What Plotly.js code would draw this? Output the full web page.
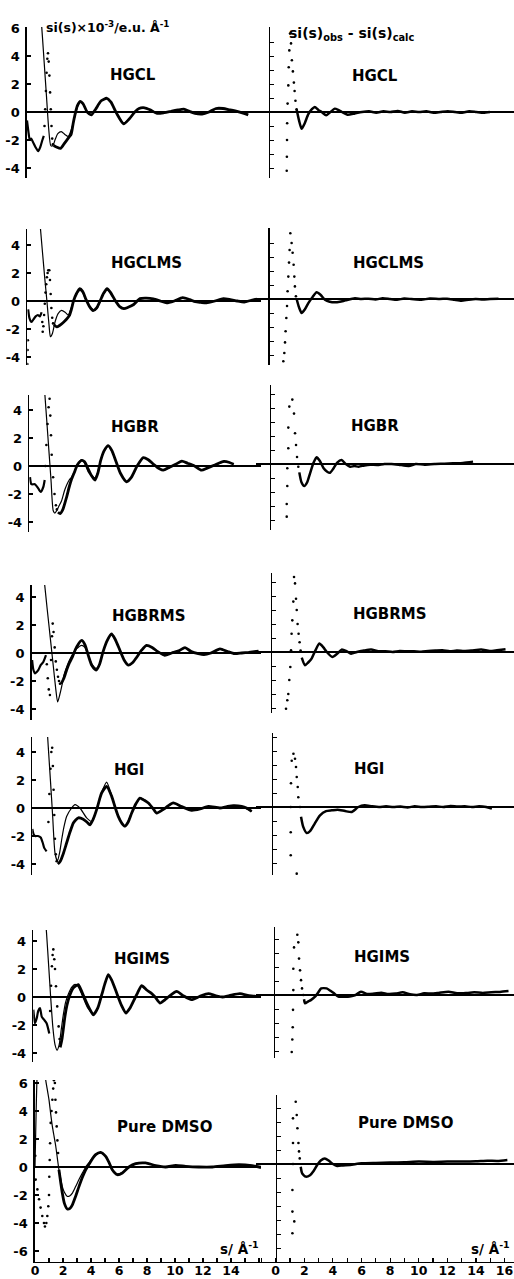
<!DOCTYPE html>
<html><head><meta charset="utf-8">
<script src="https://cdn.plot.ly/plotly-3.0.1.min.js"></script>
<style>html,body{margin:0;padding:0;background:#fff}#chart{width:514px;height:1279px}</style>
</head><body><div id="chart"></div>
<script>
// ---------- DATA (s in 1/Å, si(s) in units of 10^-3 e.u. Å^-1) ----------
// HGCL
const hgclLowS = [0.0,0.1,0.2,0.3,0.45,0.6,0.8,0.95,1.1,1.2];
const hgclLowY = [-0.6,-1.4,-2.0,-1.9,-2.2,-2.5,-2.8,-2.5,-2.0,-1.7];
const hgclDotS = [1.25,1.3,1.35,1.4,1.45,1.5,1.55,1.6,1.65,1.7,1.75,1.8,1.85];
const hgclDotY = [-1.0,0.2,1.5,2.8,3.8,4.2,3.6,2.6,1.4,0.2,-1.0,-1.9,-2.3];
const hgclObsS = [1.9,2.1,2.4,2.7,3.0,3.15,3.3,3.45,3.6,3.8,4.0,4.3,4.6,4.9,5.3,5.7,6.0,6.4,6.9,7.3,7.7,8.0,8.4,8.8,9.3,9.8,10.3,10.8,11.2,11.6,12.0,12.5,13.0,13.5,14.0,14.5,15.0,15.5,15.8];
const hgclObsY = [-2.4,-2.5,-2.6,-2.2,-1.8,-1.6,-0.8,-0.1,0.45,0.75,0.6,0.0,-0.2,0.2,0.8,0.98,0.7,-0.1,-0.85,-0.5,0.0,0.25,0.3,0.15,-0.1,-0.05,0.05,0.15,0.2,0.05,-0.1,-0.15,0.0,0.25,0.25,0.15,0.05,-0.1,-0.2];
const hgclCalcS = [0.95,1.1,1.25,1.4,1.55,1.7,1.85,2.0,2.2,2.45,2.7,2.95,3.15,3.35,3.55,3.8,4.0,4.3,4.6,4.9,5.3,5.7,6.0,6.4,6.9,7.3,7.7,8.0,8.4,8.8,9.3,9.8,10.3,10.8,11.2,11.6,12.0,12.5,13.0,13.5,14.0,14.5,15.0,15.5,15.8];
const hgclCalcY = [7.5,5.4,3.2,1.0,-1.2,-2.4,-2.4,-2.0,-1.55,-1.4,-1.6,-1.75,-1.3,-0.6,0.2,0.75,0.6,0.0,-0.25,0.2,0.8,0.95,0.7,-0.1,-0.8,-0.5,0.0,0.25,0.3,0.15,-0.1,-0.05,0.05,0.15,0.2,0.05,-0.1,-0.15,0.0,0.2,0.25,0.15,0.05,-0.1,-0.2];
const hgclDiffDotS = [1.24,1.25,1.26,1.27,1.3,1.35,1.38,1.42,1.47,1.54,1.6,1.67,1.74,1.79,1.85,1.93];
const hgclDiffDotY = [-4.2,-3.2,-2.0,-0.8,0.6,1.9,3.2,4.4,5.6,4.9,3.7,2.9,2.1,1.5,0.8,0.2];
const hgclDiffS = [1.93,2.1,2.28,2.5,2.75,3.0,3.2,3.45,3.68,4.0,4.3,4.6,4.85,5.1,5.5,6.0,6.5,7.0,7.5,8.0,8.5,9.0,9.5,10.0,10.5,11.0,11.5,12.0,12.5,13.0,13.5,14.0,14.5,15.0,15.45];
const hgclDiffY = [0.2,-0.6,-1.2,-0.8,-0.15,0.2,0.36,0.15,0.0,-0.24,0.0,0.24,0.15,0.0,-0.2,-0.1,0.0,0.05,-0.05,0.05,0.0,0.08,-0.05,0.05,0.0,0.05,-0.05,0.0,0.05,0.0,-0.05,0.05,0.0,-0.05,0.0];

// HGCLMS
const hgclmsLowS = [0.06,0.15,0.3,0.45,0.6,0.75,0.9,1.02];
const hgclmsLowY = [-0.6,-1.2,-1.5,-1.3,-1.1,-1.0,-1.1,-0.8];
const hgclmsDotS = [0.0,0.02,0.04,1.07,1.1,1.15,1.2,1.25,1.3,1.35,1.4,1.45,1.5,1.57,1.62,1.67,1.72,1.78,1.84];
const hgclmsDotY = [-4.5,-3.5,-2.8,-1.5,-2.2,-1.8,-1.0,-0.2,0.6,1.2,1.7,2.0,2.2,2.2,1.5,0.5,-0.5,-1.2,-1.6];
const hgclmsObsS = [1.9,2.1,2.3,2.55,2.8,3.0,3.15,3.3,3.5,3.75,3.95,4.2,4.45,4.7,4.95,5.2,5.45,5.7,5.95,6.3,6.6,6.9,7.2,7.6,8.05,8.5,9.0,9.5,9.95,10.5,11.1,11.6,12.0,12.4,12.8,13.4,14.0,14.5,15.0,15.5,16.0,16.4];
const hgclmsObsY = [-1.7,-1.85,-1.75,-1.55,-1.3,-1.05,-0.6,0.0,0.5,0.88,0.7,0.1,-0.4,-0.68,-0.5,0.0,0.55,0.88,0.6,0.0,-0.4,-0.55,-0.45,-0.25,0.17,0.2,0.15,0.0,-0.14,0.0,0.24,0.1,-0.05,-0.1,-0.14,0.0,0.17,0.1,0.0,-0.07,0.05,0.14];
const hgclmsCalcS = [0.85,0.95,1.1,1.25,1.4,1.55,1.65,1.8,1.98,2.2,2.45,2.7,2.93,3.1,3.3,3.5,3.76,3.95,4.2,4.45,4.8,5.0,5.2,5.45,5.7,5.95,6.3,6.6,6.9,7.2,7.6,8.05,8.5,9.0,9.5,9.95,10.5,11.1,11.6,12.0,12.4,12.8,13.4,14.0,14.5,15.0,15.5,16.0,16.4];
const hgclmsCalcY = [6.2,5.05,3.3,1.6,0.0,-1.7,-2.55,-2.3,-1.5,-0.9,-0.67,-0.8,-1.0,-0.6,0.0,0.45,0.76,0.6,0.05,-0.4,-0.65,-0.5,0.0,0.5,0.82,0.55,0.0,-0.4,-0.52,-0.45,-0.25,0.17,0.2,0.15,0.0,-0.14,0.0,0.24,0.1,-0.05,-0.1,-0.14,0.0,0.17,0.1,0.0,-0.07,0.05,0.14];
const hgclmsDiffDotS = [1.05,1.12,1.17,1.21,1.26,1.31,1.35,1.4,1.45,1.49,1.54,1.63,1.7,1.77,1.82,1.86,1.93];
const hgclmsDiffDotY = [-4.45,-3.86,-3.1,-2.3,-1.36,-0.5,0.55,1.6,2.6,3.5,4.7,4.0,3.3,2.45,1.6,0.9,0.2];
const hgclmsDiffS = [1.98,2.15,2.33,2.55,2.8,3.1,3.38,3.65,3.96,4.3,4.66,5.0,5.4,6.06,6.5,7.0,7.5,8.0,8.5,9.0,9.5,10.0,10.7,11.3,12.0,12.5,13.0,13.5,14.0,14.5,15.0,15.5,16.1];
const hgclmsDiffY = [0.0,-0.6,-1.0,-0.75,-0.29,0.15,0.48,0.3,-0.05,-0.2,-0.24,-0.2,-0.1,0.05,0.0,0.02,-0.03,0.05,0.0,-0.05,0.03,0.0,-0.05,0.03,0.0,0.02,-0.05,-0.12,-0.05,0.0,-0.03,0.0,0.02];

// HGBR
const hgbrLowS = [0.05,0.15,0.4,0.64,0.81,1.0,1.1];
const hgbrLowY = [-0.8,-1.3,-1.3,-1.6,-1.85,-1.5,-1.0];
const hgbrDotS = [1.15,1.22,1.3,1.38,1.45,1.5,1.55,1.6,1.7,1.8,1.9,1.97];
const hgbrDotY = [0.0,1.5,3.0,4.2,4.8,3.6,2.2,0.8,-0.8,-2.0,-2.8,-3.1];
const hgbrObsS = [2.05,2.2,2.4,2.67,2.85,3.0,3.2,3.45,3.74,3.95,4.2,4.45,4.69,4.9,5.1,5.35,5.64,5.9,6.2,6.5,6.95,7.3,7.7,8.14,8.5,8.9,9.3,9.57,10.0,10.5,10.9,11.3,11.8,12.3,12.7,13.2,13.9,14.3,14.6];
const hgbrObsY = [-3.3,-3.4,-3.1,-2.2,-1.5,-1.0,-0.5,0.1,0.4,0.3,-0.2,-0.7,-1.0,-0.5,0.4,1.1,1.46,1.1,0.3,-0.5,-1.13,-0.8,0.0,0.6,0.45,0.1,-0.2,-0.3,-0.1,0.15,0.35,0.2,0.0,-0.3,-0.15,0.05,0.33,0.25,0.12];
const hgbrCalcS = [1.0,1.12,1.25,1.4,1.55,1.71,1.83,1.95,2.1,2.3,2.5,2.67,2.85,3.0,3.2,3.45,3.74,3.95,4.2,4.45,4.69,4.9,5.1,5.35,5.64,5.9,6.2,6.5,6.95,7.3,7.7,8.14,8.5,8.9,9.3,9.57,10.0,10.5,10.9,11.3,11.8,12.3,12.7,13.2,13.9,14.3,14.6];
const hgbrCalcY = [6.7,5.0,3.2,1.1,-1.0,-3.2,-3.36,-3.2,-2.9,-2.5,-1.8,-1.36,-1.0,-0.82,-0.45,0.1,0.45,0.2,-0.4,-0.7,-0.85,-0.4,0.4,1.1,1.4,1.05,0.3,-0.5,-1.1,-0.8,0.0,0.58,0.45,0.1,-0.2,-0.3,-0.1,0.15,0.33,0.2,0.0,-0.28,-0.15,0.05,0.3,0.25,0.12];
const hgbrDiffDotS = [1.17,1.17,1.21,1.21,1.28,1.28,1.35,1.56,1.68,1.75,1.82,1.89,1.98];
const hgbrDiffDotY = [-3.76,-2.86,-1.57,-0.3,1.12,2.6,4.1,4.6,3.6,2.2,1.36,0.5,-0.2];
const hgbrDiffS = [2.05,2.2,2.4,2.6,2.8,3.05,3.26,3.5,3.75,4.0,4.2,4.45,4.7,5.0,5.3,5.6,5.9,6.2,6.6,7.0,7.5,8.0,8.5,9.0,9.7,10.2,10.8,11.5,12.2,12.8,13.5,14.2];
const hgbrDiffY = [-0.6,-1.3,-1.57,-1.3,-0.67,0.1,0.48,0.2,-0.3,-0.55,-0.62,-0.3,0.1,0.29,0.0,-0.19,-0.15,-0.19,-0.1,-0.05,-0.07,0.0,0.0,-0.05,-0.14,0.0,-0.05,0.0,0.02,0.05,0.08,0.17];

// HGBRMS
const hgbrmsLowS = [0.03,0.12,0.24,0.36,0.48,0.64,0.83,1.02];
const hgbrmsLowY = [-0.5,-1.2,-1.46,-1.35,-1.2,-0.87,-0.64,-0.16];
const hgbrmsDotS = [1.08,1.15,1.22,1.3,1.38,1.45,1.5,1.56,1.64,1.72,1.8,1.88,1.95,2.02];
const hgbrmsDotY = [-0.8,-1.8,-2.6,-3.0,-0.5,1.2,2.1,1.5,0.4,-0.6,-1.2,-1.7,-2.0,-2.2];
const hgbrmsObsS = [2.1,2.3,2.5,2.7,2.9,3.2,3.57,3.8,4.05,4.3,4.6,4.85,5.1,5.4,5.7,5.95,6.3,6.6,6.9,7.2,7.5,7.85,8.2,8.6,9.0,9.5,10.0,10.5,10.95,11.4,11.9,12.3,12.8,13.45,14.0,14.5,15.0,15.5,16.2];
const hgbrmsObsY = [-2.2,-1.8,-1.2,-0.7,-0.3,0.42,0.9,0.6,-0.2,-0.9,-1.22,-0.8,0.1,0.9,1.36,1.0,0.2,-0.5,-0.87,-0.7,-0.3,0.2,0.54,0.4,0.1,-0.16,0.0,0.15,0.38,0.1,-0.05,-0.12,0.0,0.3,0.1,-0.05,0.0,0.05,0.14];
const hgbrmsCalcS = [0.85,0.95,1.1,1.25,1.4,1.55,1.7,1.85,2.0,2.14,2.3,2.5,2.7,2.98,3.2,3.57,3.8,4.05,4.3,4.6,4.85,5.1,5.4,5.7,5.95,6.3,6.6,6.9,7.2,7.5,7.85,8.2,8.6,9.0,9.5,10.0,10.5,10.95,11.4,11.9,12.3,12.8,13.45,14.0,14.5,15.0,15.5,16.2];
const hgbrmsCalcY = [5.6,4.65,3.2,1.8,0.4,-1.0,-2.4,-3.5,-3.0,-2.4,-1.6,-1.0,-0.5,0.0,0.3,0.55,0.4,-0.2,-0.8,-1.1,-0.8,0.1,0.9,1.3,1.0,0.2,-0.5,-0.85,-0.7,-0.3,0.2,0.5,0.4,0.1,-0.16,0.0,0.15,0.36,0.1,-0.05,-0.12,0.0,0.28,0.1,-0.05,0.0,0.05,0.14];
const hgbrmsDiffDotS = [1.05,1.14,1.21,1.28,1.35,1.4,1.44,1.49,1.56,1.61,1.68,1.75,1.8,1.86,1.93,2.0,2.07];
const hgbrmsDiffDotY = [-4.05,-3.45,-3.0,-2.0,-1.07,0.12,1.3,2.26,3.6,5.36,4.9,3.8,3.0,2.0,1.3,0.7,0.1];
const hgbrmsDiffS = [2.15,2.38,2.6,2.85,3.1,3.38,3.65,3.9,4.29,4.6,4.94,5.3,5.6,6.0,6.5,7.0,7.5,8.0,8.5,9.0,9.5,10.0,10.5,11.0,11.5,12.0,12.5,13.0,13.5,14.0,14.7,15.3,15.8,16.4];
const hgbrmsDiffY = [-0.4,-0.95,-0.75,-0.45,0.1,0.6,0.35,0.0,-0.36,-0.15,0.17,0.05,-0.12,0.0,0.1,0.17,0.05,0.05,0.0,0.07,0.05,0.05,0.02,0.07,0.1,0.12,0.05,0.1,0.07,0.1,0.17,0.07,0.12,0.19];

// HGI
const hgiLowS = [0.0,0.1,0.19,0.4,0.6,0.75,0.85,1.02];
const hgiLowY = [-1.5,-1.9,-2.0,-2.0,-2.1,-2.5,-2.85,-3.1];
const hgiDotS = [1.15,1.22,1.3,1.36,1.42,1.47,1.52,1.57,1.62,1.68,1.74];
const hgiDotY = [-1.0,1.0,2.8,4.0,4.3,3.0,1.3,-0.5,-2.2,-3.3,-3.8];
const hgiObsS = [1.82,2.0,2.2,2.45,2.7,2.93,3.1,3.29,3.64,3.9,4.12,4.35,4.6,4.8,4.95,5.31,5.67,5.9,6.14,6.4,6.62,6.85,7.1,7.4,7.69,8.0,8.29,8.6,8.88,9.36,9.7,10.07,10.67,11.38,11.98,12.57,13.4,13.9,14.36,14.95,15.3,15.67];
const hgiObsY = [-4.0,-3.8,-3.3,-2.5,-1.7,-1.07,-0.85,-0.7,-0.8,-1.0,-1.2,-0.8,-0.1,0.6,1.07,1.54,0.83,0.1,-0.6,-1.1,-1.3,-1.0,-0.36,0.3,0.71,0.55,0.36,0.0,-0.36,-0.1,0.15,0.36,0.1,-0.17,-0.07,0.12,0.0,0.1,0.17,0.12,0.0,-0.24];
const hgiCalcS = [1.0,1.14,1.3,1.45,1.62,1.79,1.95,2.1,2.25,2.45,2.81,3.05,3.4,3.88,4.24,4.6,4.95,5.31,5.67,6.14,6.62,7.1,7.69,8.29,8.88,9.36,10.07,10.67,11.38,11.98,12.57,13.4,14.36,14.95,15.67];
const hgiCalcY = [6.6,4.38,1.9,-0.5,-3.2,-3.8,-3.2,-2.25,-1.4,-0.6,0.0,0.24,0.0,-0.7,-0.95,-0.1,1.1,1.85,0.9,-0.6,-1.3,-0.36,0.71,0.36,-0.36,-0.1,0.36,0.1,-0.17,-0.07,0.12,0.0,0.17,0.12,-0.24];
const hgiDiffDotS = [1.33,1.33,1.33,1.35,1.4,1.52,1.63,1.7,1.75,1.75,1.82,1.86,1.98];
const hgiDiffDotY = [-3.45,-1.8,0.0,1.7,3.3,3.8,3.45,2.86,2.14,-4.76,1.43,0.7,0.0];
const hgiDiffS = [2.05,2.2,2.45,2.7,3.0,3.38,3.8,4.2,4.6,5.13,5.6,6.06,6.5,7.0,7.5,8.0,8.5,9.0,9.5,10.0,10.5,11.0,11.5,12.0,12.5,13.0,13.5,14.0,14.5,15.0,15.4];
const hgiDiffY = [-0.7,-1.4,-1.86,-1.7,-1.2,-0.6,-0.3,-0.24,-0.19,-0.29,-0.36,0.0,0.12,0.05,0.0,0.05,0.0,0.03,-0.03,0.05,0.0,0.02,0.05,0.0,0.07,0.03,0.05,0.0,0.05,0.0,-0.12];

// HGIMS
const hgimsLowS = [0.0,0.05,0.12,0.25,0.35,0.48,0.6,0.75,0.95,1.14];
const hgimsLowY = [-0.9,-1.4,-1.87,-1.5,-1.0,-0.8,-1.4,-1.6,-1.87,-2.6];
const hgimsDotS = [1.2,1.27,1.33,1.38,1.43,1.5,1.55,1.62,1.71,1.81,1.88];
const hgimsDotY = [-1.0,0.8,2.2,3.0,3.4,2.7,2.0,0.77,-0.67,-2.1,-3.0];
const hgimsObsS = [1.92,2.05,2.26,2.4,2.6,2.86,3.21,3.5,3.8,4.05,4.29,4.6,4.9,5.1,5.36,5.6,5.95,6.3,6.62,6.9,7.2,7.45,7.74,8.1,8.4,8.7,9.05,9.4,9.7,10.24,10.7,11.3,11.9,12.5,13.0,13.5,14.0,14.76,15.4,16.1];
const hgimsObsY = [-3.6,-3.0,-1.4,-0.6,0.1,0.65,0.89,0.3,-0.4,-0.9,-1.27,-0.8,0.2,0.9,1.6,1.2,0.3,-0.6,-1.15,-0.8,-0.2,0.3,0.81,0.5,0.29,0.0,-0.43,-0.2,0.05,0.4,0.1,-0.19,0.05,0.24,0.1,0.0,0.1,0.24,0.1,0.05];
const hgimsCalcS = [0.9,0.95,1.1,1.24,1.4,1.55,1.7,1.85,2.0,2.14,2.3,2.5,2.75,2.98,3.2,3.5,3.9,4.29,4.6,4.9,5.1,5.36,5.6,5.95,6.3,6.62,6.9,7.2,7.45,7.74,8.1,8.4,8.7,9.05,9.4,9.7,10.24,10.7,11.3,11.9,12.5,13.0,13.5,14.0,14.76,15.4,16.1];
const hgimsCalcY = [5.2,4.5,2.2,0.0,-2.2,-3.4,-3.8,-3.4,-2.3,-1.3,-0.4,0.2,0.7,0.9,0.75,0.1,-0.8,-1.2,-0.8,0.2,0.9,1.55,1.2,0.3,-0.6,-1.1,-0.8,-0.2,0.3,0.78,0.5,0.29,0.0,-0.4,-0.2,0.05,0.38,0.1,-0.19,0.05,0.22,0.1,0.0,0.1,0.22,0.1,0.05];
const hgimsDiffDotS = [1.24,1.28,1.31,1.33,1.35,1.35,1.4,1.63,1.7,1.75,1.82,1.89,1.96,2.05];
const hgimsDiffDotY = [-4.07,-3.18,-2.3,-1.06,0.35,1.88,3.4,4.3,3.76,2.6,1.76,1.06,0.47,0.0];
const hgimsDiffS = [2.1,2.17,2.4,2.6,2.87,3.1,3.3,3.68,3.95,4.2,4.5,4.9,5.3,5.7,6.08,6.5,7.0,7.5,8.0,8.5,9.0,9.5,10.0,10.5,11.0,11.5,12.2,12.8,13.5,14.0,14.6,15.2,15.8,16.4];
const hgimsDiffY = [-0.3,-0.59,-0.45,-0.35,-0.12,0.2,0.47,0.47,0.3,0.12,-0.12,-0.12,-0.1,0.0,0.24,0.07,0.1,0.16,0.07,0.1,0.19,0.05,0.0,0.12,0.1,0.15,0.24,0.12,0.15,0.19,0.15,0.2,0.22,0.28];

// Pure DMSO
const dmsoLowS = [];
const dmsoLowY = [];
const dmsoDotS = [0.02,0.05,0.17,0.29,0.4,0.52,0.64,0.71,0.81,0.88,0.95,1.0,1.02,1.05,1.08,1.12,1.18,1.24,1.3,1.35,1.42,1.46,1.5,1.55,1.6,1.65];
const dmsoDotY = [0.8,-0.9,-1.6,-2.3,-2.9,-3.5,-4.0,-4.25,-4.0,-3.5,-2.8,-2.0,-0.7,0.5,1.7,3.15,4.0,4.8,5.6,6.2,6.0,4.8,3.9,2.9,1.9,1.0];
const dmsoObsS = [1.71,1.85,1.95,2.1,2.31,2.5,2.67,2.9,3.14,3.4,3.62,3.8,3.98,4.33,4.69,5.05,5.3,5.52,5.88,6.24,6.71,7.19,7.9,8.62,9.33,10.05,10.76,11.7,12.67,13.6,14.57,15.5,16.0,16.4];
const dmsoObsY = [-0.2,-1.2,-1.86,-2.6,-3.0,-2.95,-2.7,-2.1,-1.4,-0.7,-0.2,0.1,0.4,0.88,1.05,0.76,0.3,-0.2,-0.55,-0.43,0.0,0.24,0.29,0.1,0.0,0.12,0.05,0.0,0.0,0.1,0.17,0.1,0.0,-0.05];
const dmsoCalcS = [0.0,0.05,0.1,0.15,0.25,0.45,0.6,0.76,0.9,1.0,1.12,1.24,1.36,1.48,1.6,1.71,1.83,1.95,2.1,2.31,2.5,2.67,2.9,3.14,3.4,3.62,3.85,4.1,4.4,4.69,5.05,5.3,5.52,5.88,6.24,6.71,7.19,7.9,8.62,9.33,10.05,10.76,11.7,12.67,13.6,14.57,15.5,16.0];
const dmsoCalcY = [0.0,2.5,4.8,6.5,8.0,8.6,7.8,6.25,5.4,4.8,3.8,2.9,2.2,1.5,0.6,-0.2,-0.8,-1.4,-1.8,-2.1,-2.05,-1.86,-1.4,-0.9,-0.4,0.0,0.3,0.65,0.9,1.0,0.76,0.3,-0.2,-0.5,-0.4,0.0,0.22,0.27,0.1,0.0,0.1,0.05,0.0,0.0,0.1,0.15,0.1,0.0];
const dmsoDiffDotS = [1.17,1.17,1.17,1.21,1.21,1.21,1.3,1.4,1.47,1.52,1.59,1.63,1.68];
const dmsoDiffDotY = [-4.95,-3.4,-1.86,0.0,1.5,3.26,-4.1,4.45,3.5,2.55,1.5,0.9,0.4];
const dmsoDiffS = [1.75,1.85,2.1,2.4,2.65,2.9,3.15,3.43,3.7,4.0,4.3,4.7,5.2,6.0,7.0,8.0,9.0,10.0,11.0,12.0,13.0,14.0,14.8,15.5,16.2];
const dmsoDiffY = [-0.2,-0.67,-0.9,-0.8,-0.5,-0.07,0.25,0.4,0.25,0.0,-0.14,-0.1,-0.07,0.05,0.08,0.1,0.12,0.17,0.15,0.17,0.17,0.19,0.24,0.22,0.29];

// Labels and ticks
const sampleLabels = ['HGCL','HGCLMS','HGBR','HGBRMS','HGI','HGIMS','Pure DMSO'];
const leftTickVals = [-6,-4,-2,0,2,4,6];
const leftTickText = ['-6','-4','-2','0','2','4','6'];
const sTickValsLeft = [0,2,4,6,8,10,12,14];
const sTickTextLeft = ['0','2','4','6','8','10','12','14'];
const sTickValsRight = [0,2,4,6,8,10,12,14,16];
const sTickTextRight = ['0','2','4','6','8','10','12','14','16'];
const leftTitle = 'si(s)\u00d710<sup>-3</sup>/e.u. \u00c5<sup>-1</sup>';
const rightTitle = 'si(s)<sub>obs</sub> - si(s)<sub>calc</sub>';
const sAxisLabel = 's/ \u00c5<sup>-1</sup>';

// ---------- assemble ----------
const series = [
  [hgclLowS,hgclLowY,hgclDotS,hgclDotY,hgclObsS,hgclObsY,hgclCalcS,hgclCalcY,hgclDiffDotS,hgclDiffDotY,hgclDiffS,hgclDiffY],
  [hgclmsLowS,hgclmsLowY,hgclmsDotS,hgclmsDotY,hgclmsObsS,hgclmsObsY,hgclmsCalcS,hgclmsCalcY,hgclmsDiffDotS,hgclmsDiffDotY,hgclmsDiffS,hgclmsDiffY],
  [hgbrLowS,hgbrLowY,hgbrDotS,hgbrDotY,hgbrObsS,hgbrObsY,hgbrCalcS,hgbrCalcY,hgbrDiffDotS,hgbrDiffDotY,hgbrDiffS,hgbrDiffY],
  [hgbrmsLowS,hgbrmsLowY,hgbrmsDotS,hgbrmsDotY,hgbrmsObsS,hgbrmsObsY,hgbrmsCalcS,hgbrmsCalcY,hgbrmsDiffDotS,hgbrmsDiffDotY,hgbrmsDiffS,hgbrmsDiffY],
  [hgiLowS,hgiLowY,hgiDotS,hgiDotY,hgiObsS,hgiObsY,hgiCalcS,hgiCalcY,hgiDiffDotS,hgiDiffDotY,hgiDiffS,hgiDiffY],
  [hgimsLowS,hgimsLowY,hgimsDotS,hgimsDotY,hgimsObsS,hgimsObsY,hgimsCalcS,hgimsCalcY,hgimsDiffDotS,hgimsDiffDotY,hgimsDiffS,hgimsDiffY],
  [dmsoLowS,dmsoLowY,dmsoDotS,dmsoDotY,dmsoObsS,dmsoObsY,dmsoCalcS,dmsoCalcY,dmsoDiffDotS,dmsoDiffDotY,dmsoDiffS,dmsoDiffY]
];

// geometry (pixels in the 514x1279 page)
const W = 514, H = 1279, PXU = 14, RPXU = 14.3, LEFT_END = 261, RIGHT_START = 256;
const geom = [
  {lz:112, lt:27,  lb:178,  lax:27,   rz:112,  rt:27,   rb:178,  rax:269,   ll:[133,75],   rl:[375,76]},
  {lz:301, lt:229, lb:365,  lax:27.3, rz:299,  rt:228,  rb:365,  rax:268.3, ll:[146,263],  rl:[388,263]},
  {lz:466, lt:395, lb:532,  lax:29.3, rz:464,  rt:385,  rb:530,  rax:270,   ll:[135,427],  rl:[375,426]},
  {lz:653, lt:585, lb:720,  lax:31.7, rz:652,  rt:573,  rb:713,  rax:271,   ll:[149,616],  rl:[390,614]},
  {lz:808, lt:737, lb:875,  lax:32.3, rz:807,  rt:733,  rb:875,  rax:271.7, ll:[129,770],  rl:[369,769]},
  {lz:997, lt:930, lb:1062, lax:33.3, rz:995,  rt:927,  rb:1058, rax:274,   ll:[142,959],  rl:[382,957]},
  {lz:1167,lt:1080,lb:1262, lax:35,   rz:1164, rt:1095, rb:1262, rax:275.7, ll:[164,1127], rl:[405,1123]}
];

const FONT = 'DejaVu Sans, Liberation Sans, Arial, sans-serif';
const tickFont = {family: FONT, size: 13, color: '#000', weight: 'bold'};
const nm = (k, p) => p + (k === 1 ? '' : k);

const layout = {
  width: W, height: H, margin: {l:0, r:0, t:0, b:0},
  paper_bgcolor: '#fff', plot_bgcolor: 'rgba(0,0,0,0)',
  showlegend: false, annotations: []
};
const traces = [];

function addLine(xs, ys, k, width) {
  if (!xs.length) return;
  traces.push({x: xs, y: ys, xaxis: nm(k,'x'), yaxis: nm(k,'y'), type: 'scatter', mode: 'lines',
    line: {color: '#000', width: width, shape: 'spline', smoothing: 0.6}, hoverinfo: 'skip'});
}
function addDots(xs, ys, k, size) {
  if (!xs.length) return;
  traces.push({x: xs, y: ys, xaxis: nm(k,'x'), yaxis: nm(k,'y'), type: 'scatter', mode: 'markers',
    marker: {color: '#000', size: size, line: {width: 0}}, hoverinfo: 'skip'});
}
function px2x(px) { return px / W; }
function px2y(py) { return 1 - py / H; }

const minorTicks = {tickmode: 'linear', tick0: 0, dtick: 1, ticks: 'inside', ticklen: 4, tickwidth: 1.2, tickcolor: '#000', showgrid: false};

function sAxis(domain, range, anchor, bottom, vals, texts) {
  const a = {domain: domain, range: range, anchor: anchor, showgrid: false, zeroline: false};
  if (bottom) {
    Object.assign(a, {showline: true, linecolor: '#000', linewidth: 1.4,
      ticks: 'inside', ticklen: 4, tickwidth: 1.2, tickcolor: '#000',
      tickmode: 'array', tickvals: vals, ticktext: texts,
      tickfont: {...tickFont, size: 12.5}, ticklabelstandoff: -3, minor: minorTicks});
  } else {
    Object.assign(a, {showline: false, ticks: '', showticklabels: false});
  }
  return a;
}

geom.forEach((g, i) => {
  const kL = i + 1, kR = i + 8, bottom = (i === geom.length - 1);
  const d = series[i];
  // left axes
  layout[nm(kL,'xaxis')] = sAxis([px2x(g.lax), px2x(LEFT_END)], [0, (LEFT_END - g.lax) / PXU],
                                 nm(kL,'y'), bottom, sTickValsLeft, sTickTextLeft);
  layout[nm(kL,'yaxis')] = {
    domain: [px2y(g.lb), px2y(g.lt)], range: [-(g.lb - g.lz) / PXU, (g.lz - g.lt) / PXU],
    anchor: nm(kL,'x'), showgrid: false, zeroline: true, zerolinecolor: '#000', zerolinewidth: 1.1,
    showline: true, linecolor: '#000', linewidth: 1.6,
    ticks: 'inside', ticklen: 4, tickwidth: 1.3, tickcolor: '#000',
    tickmode: 'array', tickvals: leftTickVals, ticktext: leftTickText, tickfont: tickFont, ticklabelstandoff: 3
  };
  // right axes
  layout[nm(kR,'xaxis')] = sAxis([px2x(RIGHT_START), 1], [-(g.rax - RIGHT_START) / RPXU, (W - g.rax) / RPXU],
                                 nm(kR,'y'), bottom, sTickValsRight, sTickTextRight);
  layout[nm(kR,'yaxis')] = {
    domain: [px2y(g.rb), px2y(g.rt)], range: [-(g.rb - g.rz) / PXU, (g.rz - g.rt) / PXU],
    anchor: 'free', position: px2x(g.rax), showgrid: false,
    zeroline: true, zerolinecolor: '#000', zerolinewidth: 1.1,
    showline: true, linecolor: '#000', linewidth: 1.3,
    ticks: 'inside', ticklen: 4, tickwidth: 1, tickcolor: '#000',
    tickmode: 'linear', tick0: 0, dtick: 1, showticklabels: false
  };
  // left traces: observed (thick / dotted) and calculated (thin)
  addLine(d[6], d[7], kL, 1.2);
  addLine(d[0], d[1], kL, 2.2);
  addDots(d[2], d[3], kL, 2.6);
  addLine(d[4], d[5], kL, 2.8);
  // right traces: difference curves
  addDots(d[8], d[9], kR, 2.6);
  addLine(d[10], d[11], kR, 2.5);
  // sample labels
  const lab = {font: {family: FONT, size: 15, color: '#000'}, showarrow: false,
               xref: 'paper', yref: 'paper', xanchor: 'center', yanchor: 'middle'};
  layout.annotations.push({...lab, text: '<b>' + sampleLabels[i] + '</b>', x: px2x(g.ll[0]), y: px2y(g.ll[1])});
  layout.annotations.push({...lab, text: '<b>' + sampleLabels[i] + '</b>', x: px2x(g.rl[0]), y: px2y(g.rl[1])});
});

const titleFont = {family: FONT, size: 12.5, color: '#000'};
layout.annotations.push({text: '<b>' + leftTitle + '</b>', font: titleFont, showarrow: false,
  xref: 'paper', yref: 'paper', x: px2x(44), y: px2y(27), xanchor: 'left', yanchor: 'middle'});
layout.annotations.push({text: '<b>' + rightTitle + '</b>', font: {...titleFont, size: 14}, showarrow: false,
  xref: 'paper', yref: 'paper', x: px2x(287), y: px2y(34), xanchor: 'left', yanchor: 'middle'});
layout.annotations.push({text: '<b>' + sAxisLabel + '</b>', font: {...titleFont, size: 13.5}, showarrow: false,
  xref: 'paper', yref: 'paper', x: px2x(261), y: px2y(1248), xanchor: 'right', yanchor: 'middle'});
layout.annotations.push({text: '<b>' + sAxisLabel + '</b>', font: {...titleFont, size: 13.5}, showarrow: false,
  xref: 'paper', yref: 'paper', x: px2x(512), y: px2y(1248), xanchor: 'right', yanchor: 'middle'});

Plotly.newPlot('chart', traces, layout, {staticPlot: true, displayModeBar: false});
</script></body></html>
